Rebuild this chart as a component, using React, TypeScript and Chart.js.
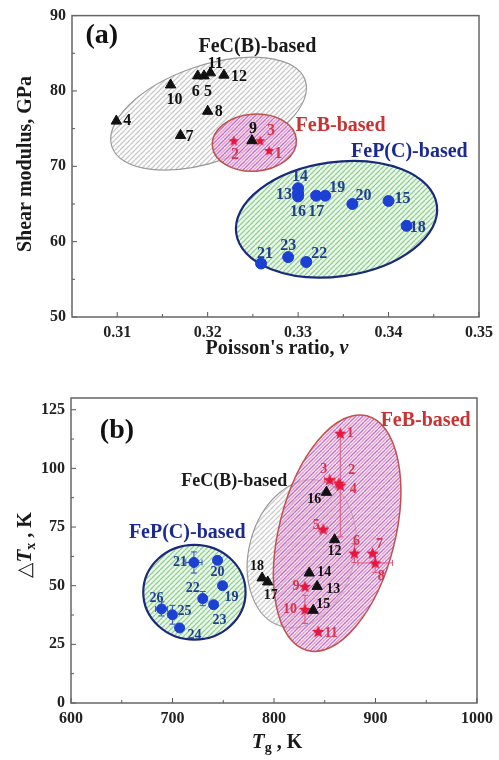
import React, { useEffect, useRef } from 'react';
import { Chart, registerables } from 'chart.js';
Chart.register(...registerables);

const SERIF = '"Liberation Serif", "Times New Roman", serif';

// ---------------- Panel (a): Poisson's ratio vs shear modulus ----------------
const A_FEC_IDS = ['4', '10', '7', '6', '5', '11', '12', '8', '9'];
const A_FEC_NU = [0.3099, 0.3159, 0.317, 0.3189, 0.3196, 0.3203, 0.3218, 0.32, 0.3249];
const A_FEC_G = [76.0, 80.8, 74.1, 82.0, 82.0, 82.4, 82.1, 77.3, 73.4];

const A_FEB_IDS = ['1', '2', '3'];
const A_FEB_NU = [0.3268, 0.3229, 0.3258];
const A_FEB_G = [72.1, 73.4, 73.4];

const A_FEP_IDS = ['13', '14', '15', '16', '17', '18', '19', '20', '21', '22', '23'];
const A_FEP_NU = [0.33, 0.33, 0.34, 0.33, 0.332, 0.342, 0.333, 0.336, 0.3259, 0.3309, 0.3289];
const A_FEP_G = [66.45, 67.1, 65.4, 66.0, 66.1, 62.1, 66.1, 65.0, 57.1, 57.3, 57.95];

// ---------------- Panel (b): Tg vs ΔTx ----------------
const B_FEB_IDS = ['1', '2', '3', '4', '5', '6', '7', '8', '9', '10', '11'];
const B_FEB_TG = [865.3, 863.9, 854.9, 865.3, 848.4, 879.2, 897.1, 899.7, 830.5, 830.5, 843.5];
const B_FEB_DTX = [115.0, 93.7, 95.2, 92.8, 74.1, 63.9, 63.9, 59.7, 49.7, 39.9, 30.5];
const B_FEB_XERR = [0, 0, 5, 0, 4, 0, 0, 17, 0, 0, 0];
const B_FEB_YERR = [0, 0, 0, 22, 0, 4, 0, 4, 0, 6, 0];

const B_FEC_IDS = ['12', '13', '14', '15', '16', '17', '18'];
const B_FEC_TG = [859.7, 842.5, 834.7, 838.6, 851.6, 793.8, 788.3];
const B_FEC_DTX = [69.6, 49.7, 55.4, 39.5, 89.8, 51.6, 53.3];

const B_FEP_IDS = ['19', '20', '21', '22', '23', '24', '25', '26'];
const B_FEP_TG = [749.3, 744.4, 721.1, 729.8, 740.5, 707.0, 699.9, 689.2];
const B_FEP_DTX = [50.0, 60.8, 59.9, 44.5, 41.9, 32.0, 37.6, 40.1];
const B_FEP_XERR = [0, 0, 8, 4, 0, 0, 0, 6];
const B_FEP_YERR = [0, 0, 4.5, 3, 0, 0, 4, 3];

// ---------------- Axis ticks ----------------
const A_X_TICKS = [0.31, 0.32, 0.33, 0.34, 0.35];
const A_Y_TICKS = [50, 60, 70, 80, 90];
const B_X_TICKS = [600, 700, 800, 900, 1000];
const B_Y_TICKS = [0, 25, 50, 75, 100, 125];

// ---------------- Label placement (pixel offsets, layout only) ----------------
const A_FEC_OFFS = [[11, 0], [4, 15], [9, 1], [-2, 16], [4, 16], [5, -9], [15, 2], [11, 1], [1, -12]];
const A_FEB_OFFS = [[9, 3], [1, 14], [11, -10]];
const A_FEP_OFFS = [[-14, 2], [2, -11], [14, -2], [0, 15], [0, 16], [11, 2], [12, -8], [11, -8], [4, -10], [13, -8], [0, -11]];
const B_FEB_OFFS = [[10, 0], [13, -13], [-6, -10], [13, 4], [-7, -4], [2, -12], [7, -9], [6, 13], [-9, 0], [-15, 0], [13, 2]];
const B_FEC_OFFS = [[0, 12], [16, 3], [15, -1], [10, -6], [-12, 7], [3, 13], [-5, -12]];
const B_FEP_OFFS = [[9, 12], [0, 12], [-14, 0], [-10, -10], [6, 16], [15, 7], [12, -3], [-5, -11]];

const RED = '#e5173f';
const BLUE = '#1c3fd4';
const BLACK = '#111111';

function starImg(color: string, R: number) {
  const s = Math.ceil(R * 2 + 2);
  const c = document.createElement('canvas');
  c.width = s; c.height = s;
  const g = c.getContext('2d')!;
  g.translate(s / 2, s / 2 + 0.5);
  g.beginPath();
  for (let i = 0; i < 10; i++) {
    const r = i % 2 ? R * 0.45 : R;
    const a = -Math.PI / 2 + (i * Math.PI) / 5;
    if (i === 0) g.moveTo(r * Math.cos(a), r * Math.sin(a));
    else g.lineTo(r * Math.cos(a), r * Math.sin(a));
  }
  g.closePath();
  g.fillStyle = color;
  g.fill();
  return c;
}

function hatch(ctx: CanvasRenderingContext2D, bg: string | null, stripes: string[], gap: number) {
  const size = gap * stripes.length;
  const c = document.createElement('canvas');
  c.width = size; c.height = size;
  const g = c.getContext('2d')!;
  if (bg) { g.fillStyle = bg; g.fillRect(0, 0, size, size); }
  g.lineWidth = 1.3;
  stripes.forEach((col, i) => {
    g.strokeStyle = col;
    const off = i * gap;
    g.beginPath();
    for (let s = -size; s <= size; s += size) {
      g.moveTo(off + s, size);
      g.lineTo(off + s + size, 0);
    }
    g.stroke();
  });
  return ctx.createPattern(c, 'repeat')!;
}

function drawRich(ctx: CanvasRenderingContext2D, segs: any[], cx: number, cy: number, rot: boolean) {
  ctx.save();
  ctx.translate(cx, cy);
  if (rot) ctx.rotate(-Math.PI / 2);
  let w = 0;
  segs.forEach((s) => { ctx.font = s.font; w += ctx.measureText(s.t).width; });
  let xx = -w / 2;
  ctx.textBaseline = 'middle';
  ctx.textAlign = 'left';
  ctx.fillStyle = '#1a1a1a';
  segs.forEach((s) => {
    ctx.font = s.font;
    ctx.fillText(s.t, xx, s.dy || 0);
    xx += ctx.measureText(s.t).width;
  });
  ctx.restore();
}

function decor(p: any) {
  return {
    id: 'decor',
    beforeDatasetsDraw(chart: any) {
      const { ctx, chartArea: a, scales } = chart;
      const xs = scales.x, ys = scales.y;
      ctx.save();
      ctx.beginPath();
      ctx.rect(a.left, a.top, a.right - a.left, a.bottom - a.top);
      ctx.clip();
      for (const e of p.ellipses) {
        const px = xs.getPixelForValue(e.cx), py = ys.getPixelForValue(e.cy);
        const rx = Math.abs(xs.getPixelForValue(e.cx + e.rx) - px);
        const ry = Math.abs(ys.getPixelForValue(e.cy + e.ry) - py);
        ctx.beginPath();
        ctx.ellipse(px, py, rx, ry, (e.rot * Math.PI) / 180, 0, Math.PI * 2);
        ctx.fillStyle = hatch(ctx, e.bg, e.stripes, e.gap);
        ctx.fill();
        ctx.strokeStyle = e.stroke;
        ctx.lineWidth = e.lw;
        ctx.stroke();
      }
      // error bars
      chart.data.datasets.forEach((ds: any) => {
        if (!ds.xErr && !ds.yErr) return;
        ctx.strokeStyle = ds.errColor;
        ctx.lineWidth = 1;
        ds.data.forEach((pt: any, i: number) => {
          const px = xs.getPixelForValue(pt.x), py = ys.getPixelForValue(pt.y);
          const xe = ds.xErr ? ds.xErr[i] : 0, ye = ds.yErr ? ds.yErr[i] : 0;
          ctx.beginPath();
          if (xe) {
            const l = xs.getPixelForValue(pt.x - xe), r = xs.getPixelForValue(pt.x + xe);
            ctx.moveTo(l, py); ctx.lineTo(r, py);
            ctx.moveTo(l, py - 3); ctx.lineTo(l, py + 3);
            ctx.moveTo(r, py - 3); ctx.lineTo(r, py + 3);
          }
          if (ye) {
            const t = ys.getPixelForValue(pt.y + ye), b = ys.getPixelForValue(pt.y - ye);
            ctx.moveTo(px, t); ctx.lineTo(px, b);
            ctx.moveTo(px - 3, t); ctx.lineTo(px + 3, t);
            ctx.moveTo(px - 3, b); ctx.lineTo(px + 3, b);
          }
          ctx.stroke();
        });
      });
      ctx.restore();
    },
    afterDatasetsDraw(chart: any) {
      const { ctx } = chart;
      ctx.save();
      ctx.textAlign = 'center';
      ctx.textBaseline = 'middle';
      chart.data.datasets.forEach((ds: any, di: number) => {
        const meta = chart.getDatasetMeta(di);
        ctx.fillStyle = ds.labelColor;
        ctx.font = `bold ${p.labelSize}px ${SERIF}`;
        meta.data.forEach((el: any, i: number) => {
          const o = ds.offs[i];
          ctx.fillText(ds.ids[i], el.x + o[0], el.y + o[1]);
        });
      });
      ctx.restore();
    },
    afterDraw(chart: any) {
      const { ctx, chartArea: a, scales } = chart;
      const xs = scales.x, ys = scales.y;
      ctx.save();
      ctx.strokeStyle = '#555';
      ctx.lineWidth = 1;
      const xt = p.xTicks, yt = p.yTicks;
      ctx.beginPath();
      xt.forEach((v: number, i: number) => {
        const X = xs.getPixelForValue(v);
        ctx.moveTo(X, a.bottom); ctx.lineTo(X, a.bottom - 5);
        if (i < xt.length - 1) {
          const m = xs.getPixelForValue((v + xt[i + 1]) / 2);
          ctx.moveTo(m, a.bottom); ctx.lineTo(m, a.bottom - 3);
        }
      });
      yt.forEach((v: number, i: number) => {
        const Y = ys.getPixelForValue(v);
        ctx.moveTo(a.left, Y); ctx.lineTo(a.left + 5, Y);
        if (i < yt.length - 1) {
          const m = ys.getPixelForValue((v + yt[i + 1]) / 2);
          ctx.moveTo(a.left, m); ctx.lineTo(a.left + 3, m);
        }
      });
      ctx.stroke();
      ctx.strokeStyle = '#666';
      ctx.lineWidth = 1.5;
      ctx.strokeRect(a.left, a.top, a.right - a.left, a.bottom - a.top);
      ctx.textAlign = 'center';
      ctx.textBaseline = 'middle';
      for (const t of p.texts) {
        ctx.fillStyle = t.color;
        ctx.font = `bold ${t.size}px ${SERIF}`;
        ctx.fillText(t.t, xs.getPixelForValue(t.x), ys.getPixelForValue(t.y));
      }
      for (const ti of p.titles) drawRich(ctx, ti.segs, ti.x, ti.y, ti.rot);
      ctx.restore();
    },
  };
}

function makeConfig(p: any) {
  return {
    type: 'scatter',
    data: {
      datasets: p.series.map((s: any) => ({
        label: s.name,
        data: s.xs.map((x: number, i: number) => ({ x, y: s.ys[i] })),
        pointStyle: s.style,
        pointRadius: s.radius,
        pointBackgroundColor: s.color,
        pointBorderColor: s.color,
        pointBorderWidth: 1,
        showLine: false,
        ids: s.ids,
        offs: s.offs,
        labelColor: s.labelColor,
        xErr: s.xErr,
        yErr: s.yErr,
        errColor: s.errColor,
      })),
    },
    options: {
      responsive: false,
      animation: false,
      events: [],
      layout: { padding: { left: 0, right: 17, top: p.top, bottom: 0 } },
      plugins: { legend: { display: false }, tooltip: { enabled: false } },
      scales: {
        x: {
          type: 'linear',
          min: p.xMin,
          max: p.xMax,
          grid: { display: false, drawTicks: false },
          border: { display: false },
          ticks: {
            padding: 6,
            color: '#222',
            font: { family: SERIF, size: 16, weight: 'bold' },
            callback: p.xFmt,
            maxRotation: 0,
            autoSkip: false,
          },
          afterBuildTicks: (ax: any) => { ax.ticks = p.xTicks.map((v: number) => ({ value: v })); },
          afterFit: (ax: any) => { ax.height = p.xAxisH; },
        },
        y: {
          type: 'linear',
          min: p.yMin,
          max: p.yMax,
          grid: { display: false, drawTicks: false },
          border: { display: false },
          ticks: {
            padding: 6,
            color: '#222',
            font: { family: SERIF, size: 16, weight: 'bold' },
            callback: (v: number) => String(v),
            autoSkip: false,
          },
          afterBuildTicks: (ax: any) => { ax.ticks = p.yTicks.map((v: number) => ({ value: v })); },
          afterFit: (ax: any) => { ax.width = p.yAxisW; },
        },
      },
    },
    plugins: [decor(p)],
  };
}

function buildA() {
  const star = starImg(RED, 5.5);
  return makeConfig({
    top: 11, xAxisH: 63, yAxisW: 72,
    xMin: 0.305, xMax: 0.35, yMin: 50, yMax: 90,
    xTicks: A_X_TICKS, yTicks: A_Y_TICKS,
    xFmt: (v: number) => v.toFixed(2),
    labelSize: 16,
    series: [
      { name: 'FeC(B)-based', xs: A_FEC_NU, ys: A_FEC_G, ids: A_FEC_IDS, offs: A_FEC_OFFS, style: 'triangle', radius: 6, color: BLACK, labelColor: '#111' },
      { name: 'FeB-based', xs: A_FEB_NU, ys: A_FEB_G, ids: A_FEB_IDS, offs: A_FEB_OFFS, style: star, radius: 6, color: RED, labelColor: '#d8334f' },
      { name: 'FeP(C)-based', xs: A_FEP_NU, ys: A_FEP_G, ids: A_FEP_IDS, offs: A_FEP_OFFS, style: 'circle', radius: 5.5, color: BLUE, labelColor: '#1f3f8f' },
    ],
    ellipses: [
      { cx: 0.3201, cy: 77.0, rx: 0.0113, ry: 6.4, rot: -19, bg: null, stripes: ['#c8c8c8'], gap: 5, stroke: '#9a9a9a', lw: 1.2 },
      { cx: 0.32516, cy: 73.14, rx: 0.00466, ry: 3.79, rot: -4, bg: 'rgba(250,222,236,0.7)', stripes: ['#b66fd0', '#f29ac2'], gap: 3.5, stroke: '#c0504d', lw: 1.5 },
      { cx: 0.33425, cy: 62.97, rx: 0.0112, ry: 7.58, rot: -8, bg: '#eef8ee', stripes: ['#8fd08f'], gap: 5, stroke: '#1a2a7a', lw: 2.2 },
    ],
    texts: [
      { t: '(a)', x: 0.3083, y: 87.3, size: 28, color: '#111' },
      { t: 'FeC(B)-based', x: 0.3255, y: 85.9, size: 20, color: '#1a1a1a' },
      { t: 'FeB-based', x: 0.3347, y: 75.4, size: 20, color: '#c83232' },
      { t: 'FeP(C)-based', x: 0.3423, y: 71.9, size: 20, color: '#1b2a8c' },
    ],
    titles: [
      { x: 26, y: 164, rot: true, segs: [{ t: 'Shear modulus, GPa', font: `bold 20px ${SERIF}` }] },
      { x: 277, y: 349, rot: false, segs: [{ t: "Poisson's ratio, ", font: `bold 20px ${SERIF}` }, { t: 'ν', font: `bold italic 20px ${SERIF}` }] },
    ],
  });
}

function buildB() {
  const star = starImg(RED, 6.5);
  return makeConfig({
    top: 18, xAxisH: 57, yAxisW: 71,
    xMin: 600, xMax: 1000, yMin: 0, yMax: 130,
    xTicks: B_X_TICKS, yTicks: B_Y_TICKS,
    xFmt: (v: number) => String(v),
    labelSize: 14,
    series: [
      { name: 'FeP(C)-based', xs: B_FEP_TG, ys: B_FEP_DTX, ids: B_FEP_IDS, offs: B_FEP_OFFS, style: 'circle', radius: 5, color: BLUE, labelColor: '#1f3f8f', xErr: B_FEP_XERR, yErr: B_FEP_YERR, errColor: '#3355bb' },
      { name: 'FeC(B)-based', xs: B_FEC_TG, ys: B_FEC_DTX, ids: B_FEC_IDS, offs: B_FEC_OFFS, style: 'triangle', radius: 6, color: BLACK, labelColor: '#111' },
      { name: 'FeB-based', xs: B_FEB_TG, ys: B_FEB_DTX, ids: B_FEB_IDS, offs: B_FEB_OFFS, style: star, radius: 6, color: RED, labelColor: '#d8334f', xErr: B_FEB_XERR, yErr: B_FEB_YERR, errColor: '#e0507a' },
    ],
    ellipses: [
      { cx: 721.6, cy: 47.2, rx: 50.4, ry: 20.2, rot: 0, bg: '#eef8ee', stripes: ['#8fd08f'], gap: 5, stroke: '#1a2a7a', lw: 2.2 },
      { cx: 827.3, cy: 63.6, rx: 51.9, ry: 32.1, rot: 15, bg: null, stripes: ['#cccccc'], gap: 5, stroke: '#9a9a9a', lw: 1.2 },
      { cx: 862.2, cy: 72.4, rx: 57.2, ry: 51.6, rot: 14.2, bg: 'rgba(250,222,236,0.45)', stripes: ['#b66fd0', '#f29ac2'], gap: 3.5, stroke: '#c0504d', lw: 1.5 },
    ],
    texts: [
      { t: '(b)', x: 645.3, y: 115.9, size: 28, color: '#111' },
      { t: 'FeB-based', x: 949.4, y: 120.2, size: 20, color: '#c83232' },
      { t: 'FeC(B)-based', x: 760.8, y: 94.6, size: 18, color: '#1a1a1a' },
      { t: 'FeP(C)-based', x: 714.5, y: 72.4, size: 20, color: '#1b2a8c' },
    ],
    titles: [
      {
        x: 26, y: 165, rot: true, segs: [
          { t: '△', font: `20px "DejaVu Sans", sans-serif` },
          { t: 'T', font: `bold italic 21px ${SERIF}` },
          { t: 'x', font: `bold 14px ${SERIF}`, dy: 5 },
          { t: ' , K', font: `bold 20px ${SERIF}` },
        ],
      },
      {
        x: 277, y: 363, rot: false, segs: [
          { t: 'T', font: `bold italic 21px ${SERIF}` },
          { t: 'g', font: `bold 14px ${SERIF}`, dy: 5 },
          { t: ' , K', font: `bold 20px ${SERIF}` },
        ],
      },
    ],
  });
}

function Panel({ build }: { build: () => any }) {
  const ref = useRef<HTMLCanvasElement>(null);
  useEffect(() => {
    const chart = new Chart(ref.current as HTMLCanvasElement, build() as any);
    return () => chart.destroy();
  }, [build]);
  return <canvas ref={ref} width={499} height={380} style={{ display: 'block', width: 499, height: 380 }} />;
}

export default function App() {
  return (
    <div style={{ position: 'absolute', left: 0, top: 0, width: 499, height: 760, background: '#fff' }}>
      <Panel build={buildA} />
      <Panel build={buildB} />
    </div>
  );
}
